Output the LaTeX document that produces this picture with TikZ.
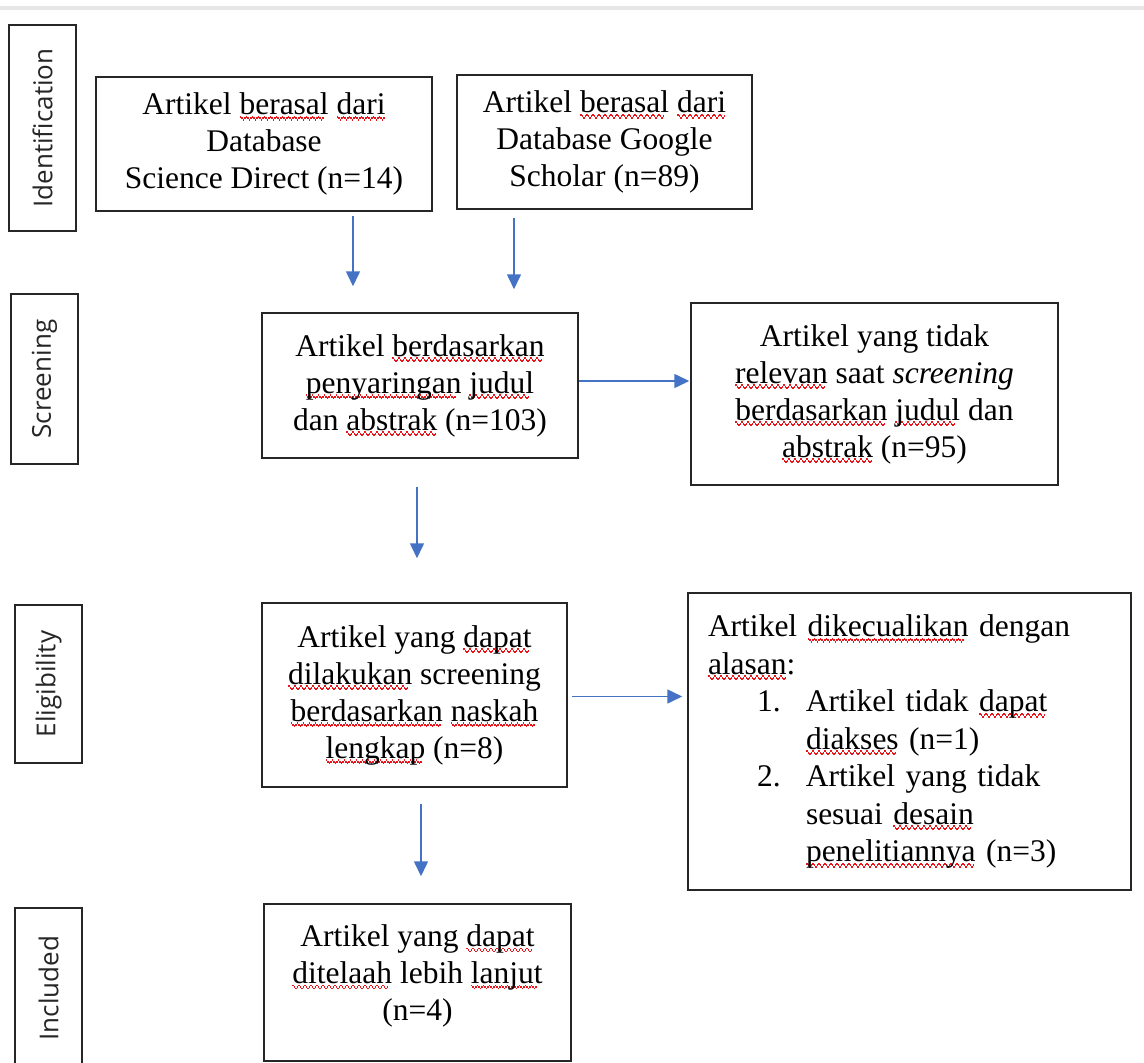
\documentclass[tikz,border=0pt]{standalone}
\usepackage{fontspec}
\setmainfont{Liberation Serif}
\newfontfamily\sidefont{Open Sans}
\usetikzlibrary{arrows, arrows.meta}
\usetikzlibrary{positioning}
\definecolor{arrowblue}{HTML}{4472C4}
\definecolor{edgegray}{HTML}{E6E6E6}
\definecolor{spellred}{HTML}{E8161B}
\newcommand{\wavebit}{\rule[-3pt]{1.5pt}{1.6pt}\rule[-4.5pt]{1.5pt}{1.6pt}\rule[-6pt]{1.5pt}{1.6pt}\rule[-4.5pt]{1.5pt}{1.6pt}}
\newcommand{\sq}[1]{\leavevmode\setbox0\hbox{#1}\rlap{\textcolor{spellred}{\hbox to \wd0{\leaders\hbox{\wavebit}\hfil}}}#1}

\begin{document}
\begin{tikzpicture}[x=1pt,y=-1pt]
\tikzstyle{every node}+=[inner sep=0pt]
\tikzstyle{box}=[draw=black!85, line width=1.5pt, align=center, text=black, font=\fontsize{31.5}{37}\selectfont]
\tikzstyle{stage}=[draw=black!85, line width=1.5pt, rotate=90, text=black!85, font=\sidefont\fontsize{26}{30}\selectfont]
\tikzstyle{arr}=[arrowblue, line width=1.6pt, -{Triangle[length=15pt,width=14pt]}]
\useasboundingbox (0,0) rectangle (1144,1063);
\fill [white] (0,0) rectangle (1144,1063);
\draw [edgegray, line width=4pt] (0,8) -- (1144,8);
% stages
\node [stage, minimum width=206pt, minimum height=67pt] (identification) at (42.5,128) {Identification};
\node [stage, minimum width=170pt, minimum height=67pt] (screening) at (44.5,379) {Screening};
\node [stage, minimum width=158pt, minimum height=67pt] (eligibility) at (48.5,684) {Eligibility};
\node [stage, minimum width=160pt, minimum height=67pt] (included) at (48.5,988) {Included};
% boxes
\node [box, minimum width=336pt, minimum height=134pt] (sd) at (264,144) {Artikel \sq{berasal} \sq{dari}\\Database\\Science Direct (n=14)};
\node [box, minimum width=295pt, minimum height=134pt] (gs) at (604.5,142) {Artikel \sq{berasal} \sq{dari}\\Database Google\\Scholar (n=89)};
\node [box, minimum width=316pt, minimum height=145pt] (scr) at (420,385.5) {Artikel \sq{berdasarkan}\\\sq{penyaringan} \sq{judul}\\dan \sq{abstrak} (n=103)};
\node [box, minimum width=367pt, minimum height=182pt] (nr) at (874.5,394) {Artikel yang tidak\\\sq{relevan} saat \textit{screening}\\\sq{berdasarkan} \sq{judul} dan\\\sq{abstrak} (n=95)};
\node [box, minimum width=305pt, minimum height=184pt] (elig) at (414.5,695) {Artikel yang \sq{dapat}\\\sq{dilakukan} screening\\\sq{berdasarkan} \sq{naskah}\\\sq{lengkap} (n=8)};
\node [box, align=left, text width=403pt, minimum width=443pt, minimum height=297pt, font=\fontsize{31.5}{37.5}\selectfont] (excl) at (909.5,741.5) {Artikel \sq{dikecualikan} dengan\\
\sq{alasan}:\\
\hspace*{49pt}\makebox[49pt][l]{1.}Artikel tidak \sq{dapat}\\
\hspace*{98pt}\sq{diakses} (n=1)\\
\hspace*{49pt}\makebox[49pt][l]{2.}Artikel yang tidak\\
\hspace*{98pt}sesuai \sq{desain}\\
\hspace*{98pt}\sq{penelitiannya} (n=3)};
\node [box, minimum width=307pt, minimum height=157pt] (inc) at (417.5,982.5) {Artikel yang \sq{dapat}\\\sq{ditelaah} lebih \sq{lanjut}\\(n=4)\rule[-20pt]{0pt}{20pt}};
% arrows
\draw [arr, shorten <=4pt, shorten >=26pt] ([xshift=89pt]sd.south) -- ([xshift=-67pt]scr.north);
\draw [arr, shorten <=8pt, shorten >=23pt] ([xshift=-90.5pt]gs.south) -- ([xshift=94pt]scr.north);
\draw [arr, shorten >=1pt] ([yshift=4.5pt]scr.east) -- ([yshift=13pt]nr.west);
\draw [arr, shorten <=28pt, shorten >=44pt] ([xshift=-3pt]scr.south) -- ([xshift=2.5pt]elig.north);
\draw [arr, shorten <=4pt, shorten >=5pt] ([yshift=-1.5pt]elig.east) -- ([yshift=45pt]excl.west);
\draw [arr, shorten <=16pt, shorten >=27pt] ([xshift=6.5pt]elig.south) -- ([xshift=3.5pt]inc.north);
\end{tikzpicture}
\end{document}
